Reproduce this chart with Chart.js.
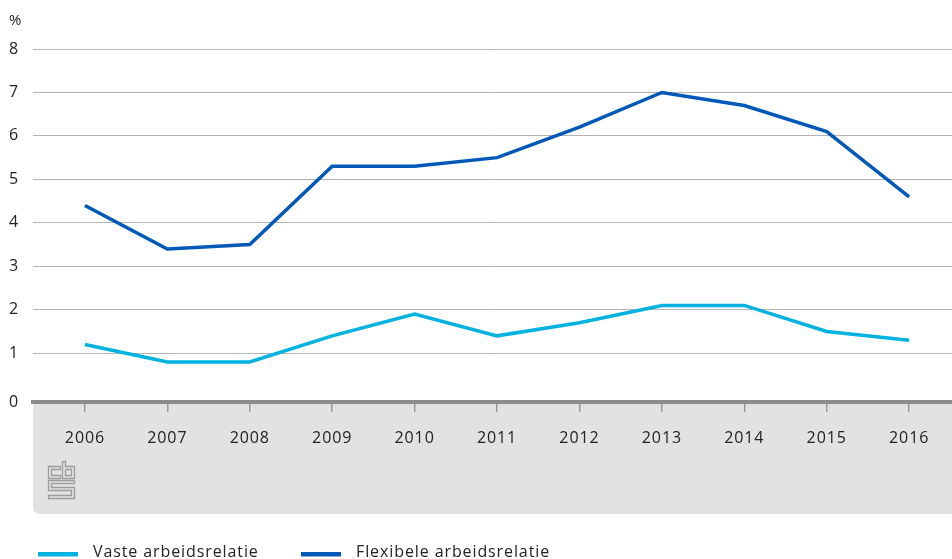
<!DOCTYPE html>
<html><head><meta charset="utf-8">
<script src="https://cdn.jsdelivr.net/npm/chart.js@4/dist/chart.umd.min.js"></script>
<style>html,body{margin:0;padding:0;background:#fff;}#wrap{width:952px;height:559px;}</style>
</head><body><div id="wrap"><canvas id="c" width="952" height="559"></canvas></div>
<script>
const years = [2006, 2007, 2008, 2009, 2010, 2011, 2012, 2013, 2014, 2015, 2016];
const vaste = [1.2, 0.8, 0.8, 1.4, 1.9, 1.4, 1.7, 2.1, 2.1, 1.5, 1.3];
const flexibel = [4.4, 3.4, 3.5, 5.3, 5.3, 5.5, 6.2, 7.0, 6.7, 6.1, 4.6];
const yTickValues = [0, 1, 2, 3, 4, 5, 6, 7, 8];
const seriesNames = ['Vaste arbeidsrelatie', 'Flexibele arbeidsrelatie'];
const unitLabel = '%';

const FONT = "'Open Sans', 'DejaVu Sans', sans-serif";
const Y_MIN = -0.122;
const SPACING = '0.9px';

const spacingPlugin = {
  id: 'spacing',
  beforeInit(chart) { chart.ctx.letterSpacing = SPACING; },
  beforeLayout(chart) { chart.ctx.letterSpacing = SPACING; },
  beforeDraw(chart) { chart.ctx.letterSpacing = SPACING; }
};

const bandPlugin = {
  id: 'band',
  beforeDraw(chart) {
    const ctx = chart.ctx, ca = chart.chartArea;
    const x0 = ca.left, x1 = chart.width, y0 = ca.bottom, y1 = 514, r = 7;
    ctx.save();
    ctx.fillStyle = '#e1e2e4';
    ctx.beginPath();
    ctx.moveTo(x0, y0);
    ctx.lineTo(x1, y0);
    ctx.lineTo(x1, y1);
    ctx.lineTo(x0 + r, y1);
    ctx.quadraticCurveTo(x0, y1, x0, y1 - r);
    ctx.closePath();
    ctx.fill();
    // logo
    ctx.strokeStyle = '#9c9c9c';
    ctx.lineWidth = 1.3;
    const ox = 48, oy = 461;
    const paths = [
      [[12,5],[0,5],[0,17],[12,17],[12,14],[3,14],[3,8],[12,8],[12,5]],
      [[14,0],[17,0],[17,5],[26,5],[26,17],[14,17],[14,0]],
      [[17,8],[23,8],[23,14],[17,14],[17,8]],
      [[26,19],[0,19],[0,29],[23,29],[23,34],[0,34],[0,37],[26,37],[26,26],[3,26],[3,22],[26,22],[26,19]]
    ];
    paths.forEach(p => {
      ctx.beginPath();
      p.forEach((pt, i) => { const X = ox + pt[0] + 0.5, Y = oy + pt[1] + 0.5; i ? ctx.lineTo(X, Y) : ctx.moveTo(X, Y); });
      ctx.stroke();
    });
    ctx.restore();
  }
};

const legendPlugin = {
  id: 'customLegend',
  afterDraw(chart) {
    const ctx = chart.ctx;
    const xs = [38, 301];
    ctx.save();
    ctx.letterSpacing = SPACING;
    chart.data.datasets.forEach((ds, i) => {
      ctx.fillStyle = ds.borderColor;
      ctx.fillRect(xs[i], 552, 40, 4.5);
      ctx.fillStyle = '#222';
      ctx.font = '16px ' + FONT;
      ctx.textBaseline = 'alphabetic';
      ctx.textAlign = 'left';
      ctx.fillText(ds.label, xs[i] + 55, 557);
    });
    ctx.restore();
  }
};

new Chart(document.getElementById('c'), {
  type: 'line',
  data: {
    datasets: [
      { label: seriesNames[0], data: years.map((y, i) => ({ x: y, y: vaste[i] })), borderColor: '#00b2e0', backgroundColor: '#00b2e0', borderWidth: 3.5, pointRadius: 0, tension: 0 },
      { label: seriesNames[1], data: years.map((y, i) => ({ x: y, y: flexibel[i] })), borderColor: '#0058b8', backgroundColor: '#0058b8', borderWidth: 3.5, pointRadius: 0, tension: 0 }
    ]
  },
  options: {
    responsive: false,
    animation: false,
    devicePixelRatio: 1,
    layout: { padding: { left: 9, right: 0, top: 0, bottom: 0 } },
    plugins: {
      legend: { display: false },
      tooltip: { enabled: false },
      title: { display: true, text: unitLabel, align: 'start', color: '#222', font: { family: FONT, size: 15, weight: 'normal' }, padding: { top: 12, bottom: 19 } }
    },
    scales: {
      x: {
        type: 'linear',
        min: 2005.37, max: 2016.52,
        afterBuildTicks(scale) { scale.ticks = years.map(v => ({ value: v })); },
        afterFit(scale) { scale.height = 157; },
        ticks: { callback: v => String(v), color: '#222', font: { family: FONT, size: 16 }, padding: 17, maxRotation: 0, autoSkip: false },
        grid: { drawOnChartArea: false, drawTicks: true, tickLength: 10, color: '#999', lineWidth: 1.5 },
        border: { display: true, width: 4, color: '#8c8c8c' }
      },
      y: {
        min: Y_MIN, max: 8,
        afterBuildTicks(scale) { scale.ticks = yTickValues.map((v, i) => ({ value: i === 0 ? Y_MIN : v })); },
        afterFit(scale) { scale.width = 24; },
        ticks: { callback: (v, i) => String(yTickValues[i]), color: '#222', font: { family: FONT, size: 16 }, crossAlign: 'far', padding: 0 },
        grid: { color: '#b4b4b4', lineWidth: 1, drawTicks: false },
        border: { display: false }
      }
    }
  },
  plugins: [spacingPlugin, bandPlugin, legendPlugin]
});
</script></body></html>
